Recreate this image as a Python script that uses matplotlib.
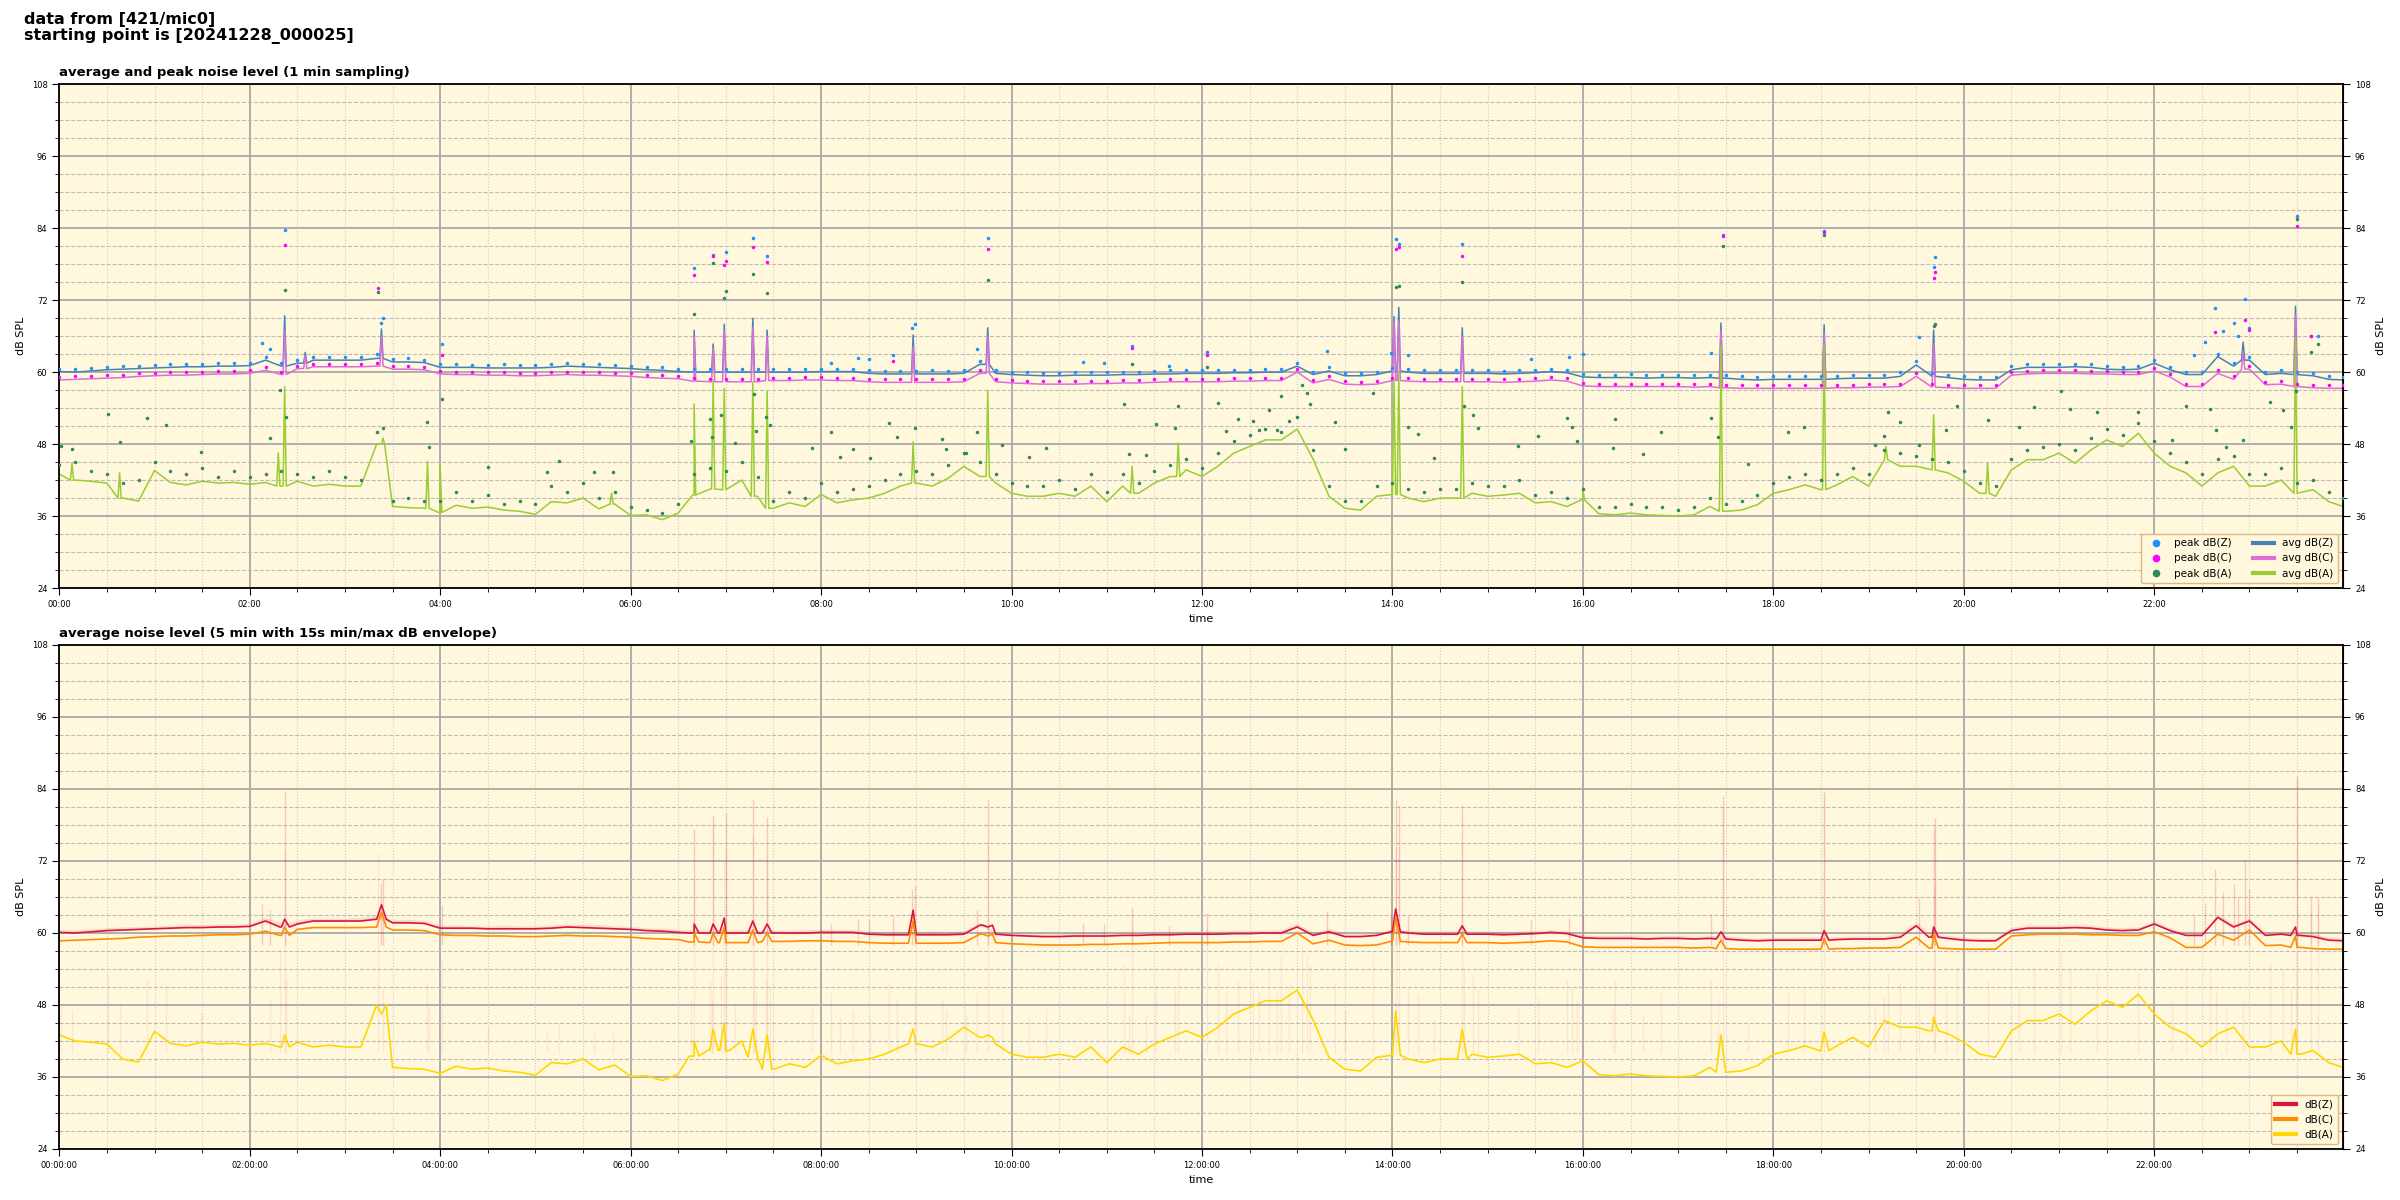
import numpy as np
import matplotlib.pyplot as plt
from matplotlib.ticker import MultipleLocator, FuncFormatter

# readings every 10 min (00:00 ... 23:50) plus the last sample at 23:59
avg_z = [60.1, 60.0, 60.2, 60.4, 60.5, 60.6,
         60.7, 60.8, 60.9, 60.9, 61.0, 61.0,
         61.1, 62.0, 61.0, 61.5, 62.0, 62.0,
         62.0, 62.0, 62.3, 61.7, 61.7, 61.6,
         60.8, 60.8, 60.8, 60.7, 60.7, 60.7,
         60.7, 60.8, 61.0, 60.9, 60.8, 60.7,
         60.6, 60.4, 60.3, 60.1, 60.0, 60.0,
         60.0, 60.0, 60.0, 60.0, 60.0, 60.0,
         60.1, 60.1, 60.1, 59.8, 59.7, 59.7,
         59.7, 59.7, 59.7, 59.8, 61.3, 59.8,
         59.6, 59.5, 59.4, 59.4, 59.5, 59.5,
         59.5, 59.6, 59.6, 59.7, 59.7, 59.8,
         59.8, 59.8, 59.9, 59.9, 60.0, 60.0,
         61.0, 59.6, 60.2, 59.4, 59.4, 59.6,
         60.2, 60.0, 59.8, 59.8, 59.8, 59.8,
         59.8, 59.7, 59.8, 59.9, 60.1, 59.9,
         59.2, 59.1, 59.1, 59.1, 59.0, 59.1,
         59.1, 59.0, 59.1, 59.0, 58.8, 58.7,
         58.8, 58.8, 58.8, 58.8, 58.9, 59.0,
         59.0, 59.0, 59.3, 61.2, 59.3, 59.1,
         58.8, 58.7, 58.7, 60.4, 60.8, 60.8,
         60.8, 60.9, 60.8, 60.5, 60.4, 60.5,
         61.5, 60.4, 59.6, 59.6, 62.6, 61.0,
         62.0, 59.6, 59.8, 59.6, 59.4, 58.8,
         58.7]

avg_c = [58.7, 58.8, 58.9, 59.0, 59.1, 59.3,
         59.4, 59.5, 59.5, 59.6, 59.7, 59.7,
         59.8, 60.3, 59.6, 60.6, 60.9, 60.9,
         60.9, 60.9, 61.0, 60.5, 60.5, 60.4,
         59.7, 59.6, 59.6, 59.5, 59.5, 59.4,
         59.4, 59.5, 59.6, 59.5, 59.5, 59.4,
         59.3, 59.1, 59.0, 58.9, 58.5, 58.4,
         58.4, 58.4, 58.4, 58.6, 58.6, 58.7,
         58.7, 58.6, 58.6, 58.4, 58.3, 58.3,
         58.3, 58.3, 58.3, 58.4, 59.8, 58.4,
         58.2, 58.1, 58.0, 58.0, 58.0, 58.1,
         58.1, 58.2, 58.2, 58.3, 58.4, 58.4,
         58.4, 58.4, 58.5, 58.5, 58.6, 58.6,
         60.0, 58.2, 58.8, 58.0, 57.9, 58.0,
         58.6, 58.5, 58.4, 58.4, 58.4, 58.4,
         58.4, 58.3, 58.4, 58.5, 58.7, 58.5,
         57.7, 57.6, 57.6, 57.6, 57.6, 57.6,
         57.6, 57.5, 57.6, 57.4, 57.3, 57.3,
         57.3, 57.3, 57.3, 57.3, 57.4, 57.4,
         57.5, 57.5, 57.6, 59.3, 57.5, 57.4,
         57.3, 57.3, 57.3, 59.5, 59.7, 59.8,
         59.8, 59.8, 59.7, 59.7, 59.6, 59.6,
         60.2, 59.2, 57.6, 57.6, 59.8, 58.8,
         60.5, 57.9, 58.0, 57.6, 57.4, 57.3,
         57.3]

avg_a = [43.0, 42.0, 41.8, 41.5, 39.0, 38.5,
         43.6, 41.6, 41.2, 41.8, 41.5, 41.6,
         41.3, 41.6, 41.0, 41.8, 41.0, 41.3,
         41.0, 41.0, 48.0, 37.6, 37.4, 37.3,
         36.6, 37.8, 37.3, 37.5, 37.0, 36.8,
         36.3, 38.4, 38.2, 39.0, 37.2, 38.0,
         36.1, 36.2, 35.4, 36.5, 39.5, 40.5,
         40.4, 42.0, 39.3, 37.3, 38.2, 37.6,
         39.6, 38.2, 38.7, 39.0, 39.8, 41.0,
         41.5, 41.0, 42.3, 44.3, 42.6, 41.5,
         39.8, 39.3, 39.3, 39.8, 39.3, 41.0,
         38.4, 41.0, 39.8, 41.5, 42.6, 43.7,
         42.6, 44.3, 46.5, 47.6, 48.7, 48.7,
         50.5, 45.5, 39.3, 37.3, 37.0, 39.3,
         39.6, 39.0, 38.4, 39.0, 39.0, 39.8,
         39.3, 39.5, 39.8, 38.2, 38.4, 37.6,
         38.7, 36.4, 36.2, 36.5, 36.2, 36.1,
         36.0, 36.2, 37.6, 36.8, 37.0, 37.9,
         39.8, 40.4, 41.2, 40.4, 41.2, 42.6,
         41.0, 45.4, 44.3, 44.3, 43.7, 43.2,
         41.8, 39.8, 39.3, 43.7, 45.4, 45.4,
         46.5, 44.8, 47.0, 48.7, 47.6, 49.8,
         46.5, 44.3, 43.2, 41.0, 43.2, 44.3,
         41.0, 41.0, 42.0, 39.8, 40.4, 38.4,
         37.6]

peak_z = [60.6, 60.5, 60.7, 60.9, 61.0, 61.1,
          61.2, 61.3, 61.4, 61.4, 61.5, 61.5,
          61.6, 62.6, 61.6, 62.1, 62.5, 62.5,
          62.5, 62.6, 63.0, 62.2, 62.3, 62.1,
          61.3, 61.3, 61.2, 61.2, 61.3, 61.2,
          61.2, 61.3, 61.5, 61.4, 61.4, 61.2,
          61.1, 60.9, 60.8, 60.6, 60.6, 60.5,
          60.5, 60.6, 60.5, 60.5, 60.5, 60.6,
          60.6, 60.6, 60.6, 60.3, 60.2, 60.2,
          60.2, 60.3, 60.2, 60.4, 61.8, 60.3,
          60.1, 60.0, 59.9, 59.9, 60.0, 60.1,
          60.0, 60.1, 60.1, 60.2, 60.3, 60.3,
          60.3, 60.3, 60.4, 60.4, 60.5, 60.6,
          61.6, 60.1, 60.8, 59.9, 59.9, 60.1,
          60.7, 60.5, 60.3, 60.3, 60.4, 60.3,
          60.3, 60.2, 60.3, 60.4, 60.6, 60.4,
          59.7, 59.6, 59.6, 59.7, 59.5, 59.6,
          59.6, 59.5, 59.6, 59.5, 59.3, 59.2,
          59.3, 59.3, 59.4, 59.3, 59.4, 59.5,
          59.5, 59.5, 60.0, 61.8, 59.8, 59.6,
          59.3, 59.2, 59.2, 61.0, 61.3, 61.3,
          61.3, 61.4, 61.3, 61.0, 60.9, 61.0,
          62.0, 60.9, 60.1, 60.1, 63.1, 61.5,
          62.5, 60.1, 60.3, 60.1, 59.9, 59.3,
          59.2]

peak_c = [59.2, 59.3, 59.4, 59.5, 59.6, 59.8,
          59.9, 60.0, 60.0, 60.1, 60.2, 60.2,
          60.3, 60.8, 60.1, 61.1, 61.4, 61.4,
          61.4, 61.4, 61.5, 61.0, 61.0, 60.9,
          60.2, 60.1, 60.1, 60.0, 60.0, 59.9,
          59.9, 60.0, 60.1, 60.0, 60.0, 59.9,
          59.8, 59.6, 59.5, 59.4, 59.0, 58.9,
          58.9, 58.9, 58.9, 59.1, 59.1, 59.2,
          59.2, 59.1, 59.1, 58.9, 58.8, 58.8,
          58.8, 58.8, 58.8, 58.9, 60.3, 58.9,
          58.7, 58.6, 58.5, 58.5, 58.5, 58.6,
          58.6, 58.7, 58.7, 58.8, 58.9, 58.9,
          58.9, 58.9, 59.0, 59.0, 59.1, 59.1,
          60.5, 58.7, 59.3, 58.5, 58.4, 58.5,
          59.1, 59.0, 58.9, 58.9, 58.9, 58.9,
          58.9, 58.8, 58.9, 59.0, 59.2, 59.0,
          58.2, 58.1, 58.1, 58.1, 58.1, 58.1,
          58.1, 58.0, 58.1, 57.9, 57.8, 57.8,
          57.8, 57.8, 57.8, 57.8, 57.9, 57.9,
          58.0, 58.0, 58.1, 59.8, 58.0, 57.9,
          57.8, 57.8, 57.8, 60.0, 60.2, 60.3,
          60.3, 60.3, 60.2, 60.2, 60.1, 60.1,
          60.7, 59.7, 58.1, 58.1, 60.3, 59.3,
          61.0, 58.4, 58.5, 58.1, 57.9, 57.8,
          57.8]

peak_a = [44.5, 45.0, 43.5, 43.0, 41.5, 42.0,
          45.0, 43.5, 43.0, 44.0, 42.5, 43.5,
          42.5, 43.0, 43.5, 43.0, 42.5, 43.5,
          42.5, 42.0, 50.0, 38.5, 39.0, 38.5,
          38.5, 40.0, 38.5, 39.5, 38.0, 38.5,
          38.0, 41.0, 40.0, 41.5, 39.0, 40.0,
          37.5, 37.0, 36.5, 38.0, 43.0, 44.0,
          43.5, 45.0, 42.5, 38.5, 40.0, 39.0,
          41.5, 40.0, 40.5, 41.0, 42.0, 43.0,
          43.5, 43.0, 44.5, 46.5, 45.0, 43.0,
          41.5, 41.0, 41.0, 42.0, 40.5, 43.0,
          40.0, 43.0, 41.5, 43.5, 44.5, 45.5,
          44.0, 46.5, 48.5, 49.5, 50.5, 50.0,
          52.5, 47.0, 41.0, 38.5, 38.5, 41.0,
          41.5, 40.5, 40.0, 40.5, 40.5, 41.5,
          41.0, 41.0, 42.0, 39.5, 40.0, 39.0,
          40.5, 37.5, 37.5, 38.0, 37.5, 37.5,
          37.0, 37.5, 39.0, 38.0, 38.5, 39.5,
          41.5, 42.5, 43.0, 42.0, 43.0, 44.0,
          43.0, 47.0, 46.5, 46.0, 45.5, 45.0,
          43.5, 41.5, 41.0, 45.5, 47.0, 47.5,
          48.0, 47.0, 49.0, 50.5, 49.5, 51.5,
          48.5, 46.5, 45.0, 43.0, 45.5, 46.0,
          43.0, 43.0, 44.0, 41.5, 42.0, 40.0,
          39.0]

# short events in the 1 min averages (minute of day, dB)
spike_min = [142, 155, 203, 400, 412, 419, 437, 446, 538, 585,
             841, 844, 884, 1047, 1112, 1181, 1376, 1409]
spike_z = [69.4, 63.3, 67.2, 67.0, 64.7, 68.0, 69.0, 67.0, 66.2, 67.4,
           69.3, 70.8, 67.4, 68.2, 67.9, 67.0, 65.0, 71.0]
spike_c = [67.0, 62.8, 65.9, 66.0, 64.0, 67.0, 67.5, 66.0, 64.3, 66.0,
           68.5, 68.5, 66.0, 67.0, 66.5, 64.8, 63.5, 69.5]
spike_a_min = [8, 38, 138, 142, 204, 232, 240, 348, 400, 412, 419, 437,
               446, 538, 585, 676, 705, 841, 844, 884, 960, 1047, 1112,
               1151, 1181, 1215, 1409]
spike_a = [44.8, 43.2, 46.5, 57.6, 49.0, 45.1, 44.5, 39.8, 54.7, 58.7,
           57.3, 58.4, 56.8, 48.4, 57.0, 44.3, 48.2, 58.7, 59.8, 57.6,
           40.4, 64.3, 64.3, 47.6, 52.9, 44.8, 65.7]

# single high peak readings
out_z_min = [128, 133, 142, 203, 204, 241, 400, 412, 420, 437, 446, 486,
             503, 510, 525, 537, 539, 578, 585, 645, 658, 676, 699, 723,
             799, 839, 842, 844, 850, 884, 927, 951, 960, 1041, 1048, 1112,
             1172, 1181, 1182, 1345, 1352, 1358, 1363, 1370, 1373, 1377,
             1380, 1410, 1419, 1423]
out_z = [64.8, 63.8, 83.7, 68.2, 69.0, 64.7, 77.3, 79.6, 80.0, 82.3, 79.3,
         61.5, 62.3, 62.2, 62.8, 67.3, 68.0, 63.9, 82.3, 61.7, 61.5, 64.3,
         61.1, 63.3, 63.6, 63.2, 82.2, 81.3, 62.9, 81.4, 62.2, 62.5, 63.0,
         63.2, 82.8, 83.6, 65.9, 77.5, 79.2, 62.9, 65.0, 70.7, 66.8, 68.2,
         66.0, 72.2, 67.3, 86.1, 66.0, 66.0]
out_c_min = [142, 201, 241, 400, 412, 419, 420, 437, 446, 525, 585, 676,
             723, 842, 844, 884, 1048, 1112, 1181, 1182, 1358, 1377, 1380,
             1410, 1419]
out_c = [81.2, 74.0, 62.9, 76.2, 79.3, 77.8, 78.6, 80.8, 78.3, 61.8, 80.5,
         64.1, 62.8, 80.5, 80.8, 79.3, 82.7, 83.3, 75.7, 76.7, 66.7, 68.7,
         67.0, 84.3, 66.0]
out_a_min = [1, 8, 31, 38, 55, 67, 89, 133, 139, 142, 143, 201, 204, 232,
             233, 241, 270, 307, 315, 337, 349, 398, 400, 410, 411, 412, 417,
             419, 420, 426, 437, 438, 439, 445, 446, 448, 474, 486, 492, 500,
             511, 523, 528, 539, 556, 559, 571, 578, 585, 594, 611, 622, 671,
             674, 676, 685, 691, 703, 705, 723, 730, 735, 743, 752, 756, 762,
             767, 770, 775, 783, 786, 788, 804, 810, 828, 842, 844, 850, 856,
             866, 884, 885, 891, 894, 919, 932, 950, 953, 956, 979, 980, 998,
             1009, 1041, 1045, 1048, 1064, 1089, 1099, 1112, 1144, 1150, 1152,
             1160, 1172, 1181, 1182, 1189, 1196, 1215, 1235, 1244, 1261, 1267,
             1284, 1310, 1331, 1340, 1355, 1359, 1365, 1376, 1393, 1401, 1406,
             1409, 1410, 1419, 1423]
out_a = [47.7, 47.2, 53.0, 48.3, 52.3, 51.2, 46.7, 49.0, 57.1, 73.7, 52.5,
         73.3, 50.7, 51.7, 47.6, 55.6, 44.2, 43.3, 45.2, 43.4, 43.3, 48.6,
         69.7, 52.2, 49.2, 78.2, 52.9, 72.3, 73.5, 48.2, 76.3, 56.4, 50.2,
         52.5, 73.2, 51.2, 47.3, 50.0, 45.8, 47.1, 45.6, 51.5, 49.2, 50.7,
         48.8, 47.1, 46.5, 50.0, 75.3, 47.9, 45.8, 47.3, 54.7, 46.3, 61.3,
         46.1, 51.3, 50.7, 54.3, 60.8, 54.8, 50.2, 52.2, 51.8, 50.4, 53.7,
         50.4, 56.1, 51.9, 57.9, 56.5, 54.7, 51.7, 47.1, 56.5, 74.2, 74.3,
         50.8, 49.7, 45.7, 75.0, 54.3, 52.8, 50.7, 47.7, 49.3, 52.3, 50.8,
         48.6, 47.3, 52.2, 46.3, 50.0, 52.3, 49.2, 81.0, 44.7, 50.0, 50.8,
         82.9, 47.9, 49.3, 53.3, 51.7, 47.9, 67.7, 68.0, 50.3, 54.3, 52.1,
         50.9, 54.2, 56.9, 53.8, 53.4, 53.3, 48.7, 54.3, 53.8, 50.4, 47.6,
         48.7, 55.1, 53.7, 50.9, 56.8, 85.6, 63.3, 64.7]

# events as seen in the 5 min averages
bot_spike_min = [142, 203, 400, 412, 419, 437, 446, 538, 585, 842, 884,
                 1047, 1112, 1181, 1409]
bot_spike_z = [62.3, 64.7, 61.5, 61.5, 62.5, 62.0, 61.5, 63.8, 61.0, 64.0,
               61.2, 60.2, 60.4, 61.0, 61.0]
bot_spike_c = [61.0, 63.5, 60.0, 60.0, 61.0, 60.5, 60.0, 62.0, 59.5, 62.5,
               59.8, 58.8, 59.0, 59.8, 59.5]
bot_spike_a = [43.0, 46.5, 42.0, 44.0, 45.0, 44.0, 43.0, 44.0, 43.0, 47.0,
               44.0, 43.0, 43.5, 46.0, 44.0]

t_grid = np.append(np.arange(0, 1440, 10), 1439)


def add_spikes(base, s_min, s_val, w=1):
    t = list(t_grid)
    v = list(base)
    for ts, vs in zip(s_min, s_val):
        i = int(np.argmin(np.abs(t_grid - ts)))
        t += [ts - w, ts, ts + w]
        v += [base[i], vs, base[i]]
    order = np.argsort(t, kind='stable')
    return np.array(t)[order], np.array(v)[order]


def hhmm(m, pos):
    return '%02d:%02d' % (int(m // 60) % 24, int(m % 60))


def hhmmss(m, pos):
    return '%02d:%02d:00' % (int(m // 60) % 24, int(m % 60))


def style(ax, fmt):
    ax.set_facecolor('cornsilk')
    ax.set_xlim(0, 1439)
    ax.set_ylim(24, 108)
    ax.xaxis.set_major_locator(MultipleLocator(120))
    ax.xaxis.set_minor_locator(MultipleLocator(30))
    ax.xaxis.set_major_formatter(FuncFormatter(fmt))
    ax.xaxis.get_offset_text().set_visible(False)
    ax.yaxis.get_offset_text().set_visible(False)
    ax.yaxis.set_major_locator(MultipleLocator(12))
    ax.yaxis.set_minor_locator(MultipleLocator(3))
    ax.grid(which='major', color='darkgray', lw=1.3)
    ax.grid(which='minor', axis='y', color='#bbbbbb', ls='--', lw=0.8)
    ax.grid(which='minor', axis='x', color='#cccccc', ls=':', lw=0.8)
    ax.set_axisbelow(True)
    ax.tick_params(which='both', labelsize=6)
    ax.tick_params(which='major', length=5)
    ax.tick_params(which='minor', length=3)
    for s in ax.spines.values():
        s.set_linewidth(1.3)
    sec = ax.secondary_yaxis('right')
    sec.yaxis.set_major_locator(MultipleLocator(12))
    sec.yaxis.set_minor_locator(MultipleLocator(3))
    sec.yaxis.get_offset_text().set_visible(False)
    sec.tick_params(which='both', labelsize=6)
    sec.tick_params(which='major', length=5)
    sec.tick_params(which='minor', length=3)
    sec.set_ylabel('dB SPL', fontsize=8)
    ax.set_ylabel('dB SPL', fontsize=8)
    ax.set_xlabel('time', fontsize=8)


fig = plt.figure(figsize=(24, 12), dpi=100)
fig.text(0.01, 0.99, 'data from [421/mic0]\nstarting point is [20241228_000025]',
         va='top', ha='left', fontsize=11.5, weight='bold', linespacing=1.1)

# top: 1 min averages and peaks
ax1 = fig.add_axes([0.0247, 0.51, 0.9516, 0.4197])
style(ax1, hhmm)
ax1.set_title('average and peak noise level (1 min sampling)', loc='left',
              fontsize=9.5, weight='bold', pad=6)

tz, vz = add_spikes(avg_z, spike_min, spike_z)
tc, vc = add_spikes(avg_c, spike_min, spike_c)
ta, va = add_spikes(avg_a, spike_a_min, spike_a)

ax1.plot(np.r_[t_grid, out_z_min], np.r_[peak_z, out_z], '.', color='dodgerblue',
         ms=3, label='peak dB(Z)', zorder=3)
ax1.plot(np.r_[t_grid, out_c_min], np.r_[peak_c, out_c], '.', color='magenta',
         ms=3, label='peak dB(C)', zorder=3)
ax1.plot(np.r_[t_grid, out_a_min], np.r_[peak_a, out_a], '.', color='seagreen',
         ms=3, label='peak dB(A)', zorder=3)
ax1.plot(tz, vz, color='steelblue', lw=1.1, label='avg dB(Z)', zorder=2)
ax1.plot(tc, vc, color='orchid', lw=1.1, label='avg dB(C)', zorder=2)
ax1.plot(ta, va, color='yellowgreen', lw=1.1, label='avg dB(A)', zorder=2)

leg1 = ax1.legend(loc='lower right', ncol=2, fontsize=7.5, markerscale=3,
                  facecolor='cornsilk', edgecolor='burlywood', framealpha=1)
for ln in leg1.get_lines():
    ln.set_linewidth(3)

# bottom: 5 min averages with envelope
ax2 = fig.add_axes([0.0247, 0.0425, 0.9516, 0.42])
style(ax2, hhmmss)
ax2.set_title('average noise level (5 min with 15s min/max dB envelope)', loc='left',
              fontsize=9.5, weight='bold', pad=6)

ax2.fill_between(t_grid, avg_z, peak_z, color='crimson', alpha=0.12, lw=0)
ax2.vlines(out_z_min, 58, out_z, color='crimson', alpha=0.2, lw=1)
ax2.vlines(out_a_min, 40, out_a, color='crimson', alpha=0.08, lw=1)

bz_t, bz_v = add_spikes(avg_z, bot_spike_min, bot_spike_z, w=3)
bc_t, bc_v = add_spikes(avg_c, bot_spike_min, bot_spike_c, w=3)
ba_t, ba_v = add_spikes(avg_a, bot_spike_min, bot_spike_a, w=3)
ax2.plot(bz_t, bz_v, color='crimson', lw=1.2, label='dB(Z)')
ax2.plot(bc_t, bc_v, color='darkorange', lw=1.2, label='dB(C)')
ax2.plot(ba_t, ba_v, color='gold', lw=1.2, label='dB(A)')

leg2 = ax2.legend(loc='lower right', fontsize=7.5, facecolor='cornsilk',
                  edgecolor='burlywood', framealpha=1)
for ln in leg2.get_lines():
    ln.set_linewidth(3)

fig.savefig('out.png', dpi=100)
